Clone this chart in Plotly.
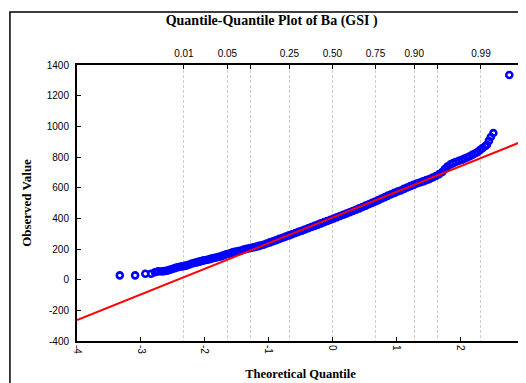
import plotly.graph_objects as go
from statistics import NormalDist

# ---- data ----
theoretical_q = [
    -3.33, -3.09, -2.93, -2.84, -2.78, -2.73, -2.67, -2.63, -2.59, -2.55,
    -2.51, -2.47, -2.43, -2.39, -2.35, -2.31, -2.28, -2.24, -2.20, -2.17,
    -2.13, -2.10, -2.07, -2.03, -2.00, -1.96, -1.92, -1.89, -1.86, -1.82,
    -1.79, -1.75, -1.72, -1.68, -1.65, -1.61, -1.58, -1.55, -1.51, -1.47,
    -1.44, -1.40, -1.37, -1.34, -1.30, -1.27, -1.23, -1.20, -1.16, -1.13,
    -1.08, -1.03, -0.98, -0.93, -0.88, -0.83, -0.78, -0.73, -0.68, -0.63,
    -0.58, -0.53, -0.48, -0.43, -0.38, -0.33, -0.28, -0.23, -0.18, -0.13,
    -0.08, -0.03, 0.02, 0.07, 0.12, 0.17, 0.22, 0.27, 0.32, 0.37,
    0.42, 0.47, 0.52, 0.57, 0.62, 0.67, 0.72, 0.77, 0.82, 0.87,
    0.92, 0.97, 1.02, 1.07, 1.12, 1.17, 1.22, 1.27, 1.32, 1.37,
    1.42, 1.47, 1.52, 1.57, 1.62, 1.67, 1.72, 1.76, 1.80, 1.85,
    1.89, 1.93, 1.98, 2.03, 2.07, 2.11, 2.15, 2.19, 2.23, 2.27,
    2.31, 2.35, 2.39, 2.42, 2.45, 2.48, 2.52, 2.77,
]
observed_value = [
    28, 28, 39, 39, 48, 54, 54, 56, 59, 64,
    70, 75, 80, 84, 87, 90, 93, 99, 105, 109,
    113, 116, 119, 124, 127, 130, 134, 138, 141, 145,
    148, 152, 157, 162, 167, 171, 176, 180, 183, 186,
    189, 194, 198, 202, 205, 208, 211, 215, 219, 223,
    228, 236, 243, 251, 258, 266, 273, 281, 289, 296,
    304, 312, 319, 327, 335, 343, 351, 359, 367, 375,
    383, 391, 399, 407, 415, 423, 431, 440, 448, 456,
    465, 474, 483, 492, 501, 510, 519, 529, 538, 548,
    557, 566, 575, 582, 592, 601, 610, 618, 627, 634,
    641, 649, 656, 666, 676, 688, 702, 722, 738, 752,
    760, 767, 775, 782, 790, 797, 805, 814, 823, 832,
    845, 858, 870, 880, 905, 930, 956, 1335,
]
fit_x = [-4, 3]
fit_y = [-263, 906]

prob_levels = [0.01, 0.05, 0.10, 0.25, 0.50, 0.75, 0.90, 0.95, 0.99]
prob_labels = ["0.01", "0.05", "", "0.25", "0.50", "0.75", "0.90", "", "0.99"]
x_ticks = [-4, -3, -2, -1, 0, 1, 2, 3]
y_ticks = [-400, -200, 0, 200, 400, 600, 800, 1000, 1200, 1400]

prob_z = [NormalDist().inv_cdf(p) for p in prob_levels]

fig = go.Figure()
fig.add_trace(go.Scatter(
    x=theoretical_q, y=observed_value, mode="markers",
    marker=dict(symbol="circle-open", size=6, color="#0000ff",
                line=dict(width=2.6, color="#0000ff")),
    showlegend=False, hoverinfo="skip"))
fig.add_trace(go.Scatter(
    x=fit_x, y=fit_y, mode="lines",
    line=dict(color="#ff0000", width=2), showlegend=False))
# dummy trace to activate the top axis
fig.add_trace(go.Scatter(x=[None], y=[None], xaxis="x2", showlegend=False))

tick_font = dict(family="Liberation Sans, Arial", size=10, color="#000")
title_font = dict(family="Liberation Serif, Times New Roman", size=12.5, color="#000")

fig.update_layout(
    width=518, height=375,
    margin=dict(l=69, r=2, t=57, b=42, autoexpand=False),
    paper_bgcolor="white", plot_bgcolor="white",
    title=dict(text="<b>Quantile-Quantile Plot of Ba (GSI )</b>",
               x=0.509, xanchor="center", xref="container", y=0.968, yanchor="middle",
               font=dict(family="Liberation Serif, Times New Roman", size=14, color="#000")),
    xaxis=dict(range=[-4, 3], tickvals=x_ticks, ticktext=[str(v) for v in x_ticks],
               tickangle=90, ticks="inside", ticklen=4, tickcolor="#000",
               showline=True, linecolor="#000", linewidth=2, mirror=True,
               showgrid=False, zeroline=False, tickfont=tick_font, automargin=False,
               title=dict(text="<b>Theoretical Quantile</b>", font=title_font, standoff=16)),
    xaxis2=dict(range=[-4, 3], overlaying="x", side="top", tickvals=prob_z,
                ticktext=prob_labels, ticks="inside", ticklen=4, tickcolor="#000",
                showline=False, showgrid=True, gridcolor="#cccccc", griddash="3px,2px",
                gridwidth=1, zeroline=False, tickfont=tick_font, tickangle=0,
                ticklabelstandoff=5, automargin=False),
    yaxis=dict(range=[-400, 1400], tickvals=y_ticks, ticktext=[str(v) for v in y_ticks],
               ticks="inside", ticklen=4,
               tickcolor="#000", showline=True, linecolor="#000", linewidth=2,
               mirror="ticks", showgrid=False, zeroline=False, tickfont=tick_font,
               automargin=False, ticklabelstandoff=4,
               title=dict(text="<b>Observed Value</b>",
                          font=dict(family="Liberation Serif, Times New Roman", size=13, color="#000"),
                          standoff=12)),
    shapes=[dict(type="rect", xref="paper", yref="paper",
                 x0=-0.150, y0=-0.25, x1=1.2, y1=1.192,
                 line=dict(color="#000", width=1.5), layer="below")],
)

fig.write_html("out.html")
